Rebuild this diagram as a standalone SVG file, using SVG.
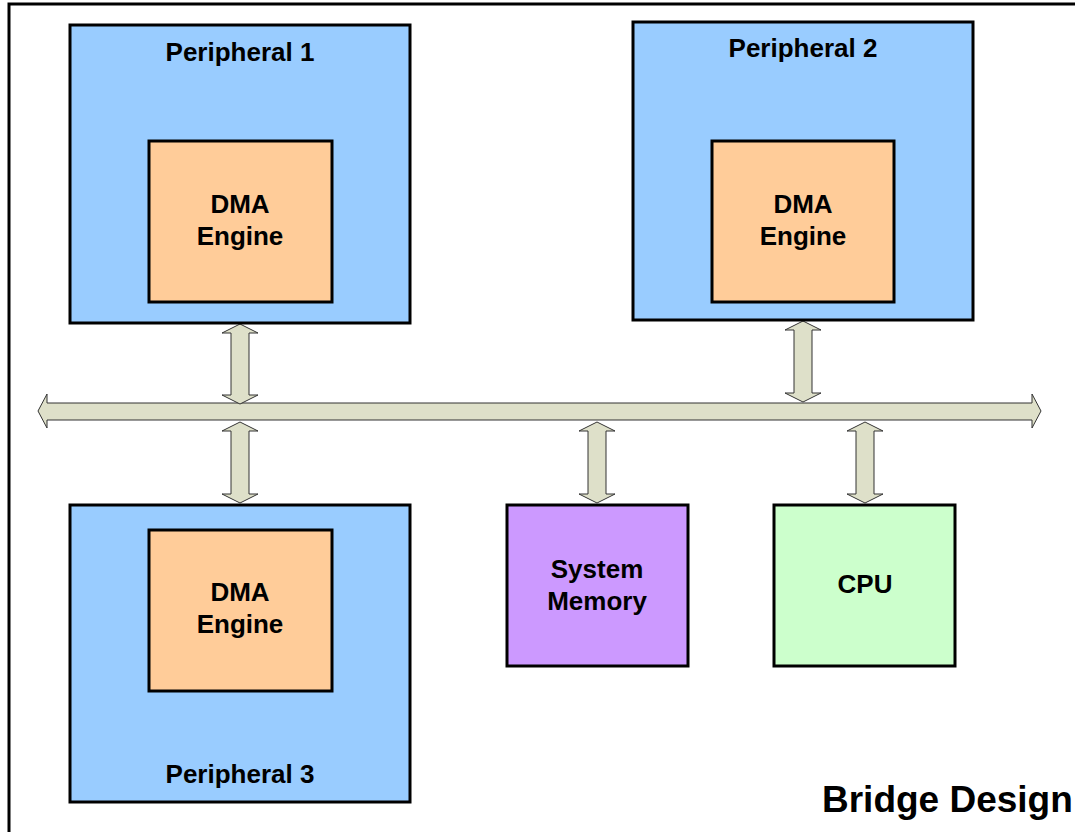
<svg xmlns="http://www.w3.org/2000/svg" width="1075" height="832" viewBox="0 0 1075 832">
<style>
.box{stroke:#000;stroke-width:3}
.periph{fill:#99CCFF}
.dma{fill:#FFCC99}
.mem{fill:#CC99FF}
.cpu{fill:#CCFFCC}
.arrow{fill:#DEE0C9;stroke:#333;stroke-width:1}
.lbl{font-family:"Liberation Sans",Arial,sans-serif;font-weight:bold;font-size:26px;text-anchor:middle;fill:#000}
.title{font-family:"Liberation Sans",Arial,sans-serif;font-weight:bold;font-size:37px;fill:#000}
</style>
<rect x="0" y="0" width="1075" height="832" fill="#fff"/>
<rect x="9" y="4" width="1120" height="900" fill="none" stroke="#000" stroke-width="3"/>
<g id="connectors">
<polygon id="bus" class="arrow" points="38,411 47,394 47,403 1032,403 1032,394 1041,411 1032,428 1032,420 47,420 47,428"/>
<polygon id="a-p1" class="arrow" points="240,324 258,333 249,333 249,395 258,395 240,404 222,395 231,395 231,333 222,333"/>
<polygon id="a-p2" class="arrow" points="803,321 821,330 812,330 812,393 821,393 803,402 785,393 794,393 794,330 785,330"/>
<polygon id="a-p3" class="arrow" points="240,422 258,431 249,431 249,494 258,494 240,503 222,494 231,494 231,431 222,431"/>
<polygon id="a-mem" class="arrow" points="597,422 615,431 606,431 606,494 615,494 597,503 579,494 588,494 588,431 579,431"/>
<polygon id="a-cpu" class="arrow" points="865,422 883,431 874,431 874,494 883,494 865,503 847,494 856,494 856,431 847,431"/>
</g>
<g id="peripheral1">
<rect class="box periph" x="70" y="25" width="340" height="298"/>
<text class="lbl" x="240" y="61">Peripheral 1</text>
</g>
<g id="dma1">
<rect class="box dma" x="149" y="141" width="183" height="161"/>
<text class="lbl" x="240" y="213">DMA</text>
<text class="lbl" x="240" y="245">Engine</text>
</g>
<g id="peripheral2">
<rect class="box periph" x="633" y="22" width="340" height="298"/>
<text class="lbl" x="803" y="57">Peripheral 2</text>
</g>
<g id="dma2">
<rect class="box dma" x="712" y="141" width="182" height="161"/>
<text class="lbl" x="803" y="213">DMA</text>
<text class="lbl" x="803" y="245">Engine</text>
</g>
<g id="peripheral3">
<rect class="box periph" x="70" y="505" width="340" height="297"/>
<text class="lbl" x="240" y="783">Peripheral 3</text>
</g>
<g id="dma3">
<rect class="box dma" x="149" y="530" width="183" height="161"/>
<text class="lbl" x="240" y="601">DMA</text>
<text class="lbl" x="240" y="633">Engine</text>
</g>
<g id="sysmem">
<rect class="box mem" x="507" y="505" width="181" height="161"/>
<text class="lbl" x="597" y="578">System</text>
<text class="lbl" x="597" y="610">Memory</text>
</g>
<g id="cpu">
<rect class="box cpu" x="774" y="505" width="181" height="161"/>
<text class="lbl" x="865" y="593">CPU</text>
</g>
<text id="title" class="title" x="822" y="812">Bridge Design</text>
</svg>
